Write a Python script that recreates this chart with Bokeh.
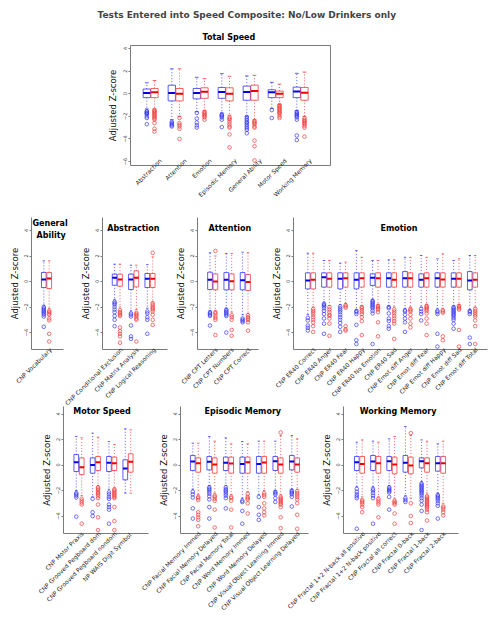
import numpy as np
from bokeh.plotting import figure
from bokeh.layouts import column, row
from bokeh.models import Range1d, FixedTicker, Label, Title, ColumnDataSource
from bokeh.embed import file_html
from bokeh.resources import INLINE

# ---------------- data ----------------
# each box: (lower whisker, Q1, median, Q3, upper whisker); blue = first series, red = second series
total_tests = ["Abstraction", "Attention", "Emotion", "Episodic Memory", "General Ability", "Motor Speed", "Working Memory"]
total_blue = [(-1.35, -0.35, 0.06, 0.41, 0.96), (-2.3, -0.64, 0.06, 0.75, 2.2), (-1.6, -0.46, 0.06, 0.46, 1.45),
              (-1.7, -0.41, 0.14, 0.55, 1.77), (-2.0, -0.58, 0.14, 0.67, 1.57), (-1.3, -0.35, 0.12, 0.35, 1.0),
              (-1.5, -0.35, 0.2, 0.58, 1.8)]
total_blue_out = [[-1.55, -1.6, -1.7, -1.75, -1.8, -2.0, -2.15, -2.7], [-2.5, -2.6, -2.7, -2.8, -2.9],
                  [-1.7, -2.2, -2.55, -2.8, -3.0], [-1.85, -1.9, -2.0, -2.1, -2.3, -2.95],
                  [-2.05, -2.2, -2.35, -2.5, -2.6, -2.75, -2.9, -3.05, -3.2, -3.5], [-1.45, -2.15],
                  [-1.6, -1.7, -1.8, -1.9, -2.0, -2.1, -2.3, -3.7, -4.1]]
total_red = [(-1.35, -0.35, 0.12, 0.46, 1.16), (-2.0, -0.64, 0.0, 0.46, 2.2), (-1.5, -0.41, 0.17, 0.52, 1.33),
             (-1.9, -0.64, 0.0, 0.52, 1.54), (-2.3, -0.58, 0.23, 0.75, 1.62), (-0.95, -0.35, 0.0, 0.23, 0.84),
             (-2.0, -0.58, 0.09, 0.55, 1.91)]
total_red_out = [[-1.45, -1.55, -1.6, -1.7, -1.8, -1.9, -2.0, -2.1, -2.2, -2.3, -2.6, -3.1, -3.35],
                 [-2.15, -2.6, -2.75, -2.9, -3.1, -4.0], [-1.6, -1.7, -1.8, -1.9, -2.0, -2.1, -2.3],
                 [-2.1, -2.2, -2.3, -2.5, -2.7, -2.9, -3.0, -3.6, -4.75],
                 [-2.4, -2.5, -2.6, -2.7, -2.9, -3.0, -4.15, -4.65, -5.9],
                 [-1.0, -1.1, -1.2, -1.3, -1.4, -1.5, -1.6, -1.7, -1.8, -2.0, -2.15],
                 [-2.15, -2.3, -2.4, -2.5, -2.6, -2.7, -2.85, -3.0, -3.8]]

ga_tests = ["CNP Vocabulary"]
ga_blue = [(-1.85, -0.47, 0.16, 0.71, 1.62)]
ga_blue_out = [[-2.0, -2.1, -2.2, -2.3, -2.4, -2.5, -2.6, -2.75, -3.55]]
ga_red = [(-2.1, -0.55, 0.24, 0.71, 1.62)]
ga_red_out = [[-2.3, -2.4, -2.5, -2.6, -2.9, -3.05, -4.1, -4.7]]

abs_tests = ["CNP Conditional Exclusion", "CNP Matrix Analysis", "CNP Logical Reasoning"]
abs_blue = [(-1.4, -0.29, 0.29, 0.58, 1.36), (-2.3, -0.63, 0.16, 0.58, 1.28), (-2.1, -0.47, 0.21, 0.63, 1.33)]
abs_blue_out = [[-1.6, -1.7, -1.8, -2.0, -2.2, -2.4, -2.7, -3.0, -3.5], [-2.5, -2.6, -2.75, -3.45, -4.3, -4.5],
                [-2.35, -2.5, -2.8, -3.0, -4.1]]
abs_red = [(-2.0, -0.37, 0.16, 0.58, 1.36), (-2.2, -0.42, 0.29, 0.84, 1.28), (-1.6, -0.47, 0.21, 0.63, 1.93)]
abs_red_out = [[-2.25, -2.4, -2.5, -2.6, -2.7, -3.6, -3.9, -4.1, -4.3, -4.8],
               [-2.45, -2.55, -2.65, -2.75, -2.9, -3.0, -4.7],
               [2.25, -1.7, -1.85, -2.0, -2.1, -2.2, -2.35, -2.6, -3.0, -3.4]]

att_tests = ["CNP CPT Letters", "CNP CPT Numbers", "CNP CPT Correct"]
att_blue = [(-2.3, -0.63, 0.13, 0.73, 2.25), (-2.1, -0.65, 0.13, 0.7, 2.2), (-2.6, -0.65, 0.1, 0.7, 2.3)]
att_blue_out = [[-2.4, -2.5, -2.6, -2.7, -3.45], [-2.2, -2.3, -2.4, -2.5, -2.6, -2.7, -4.0], [-2.9, -3.0, -3.1, -3.2]]
att_red = [(-2.3, -0.65, 0.0, 0.6, 2.0), (-2.4, -0.65, 0.03, 0.6, 2.2), (-2.5, -0.7, -0.03, 0.55, 2.25)]
att_red_out = [[2.4, -2.4, -2.5, -2.7, -2.85, -3.0, -4.2], [-2.65, -2.8, -3.0, -3.8, -4.25],
               [-2.65, -2.8, -2.9, -3.0, -3.2, -3.85]]

emo_tests = ["CNP ER40 Correct", "CNP ER40 Anger", "CNP ER40 Fear", "CNP ER40 Happy", "CNP ER40 No Emotion",
             "CNP ER40 Sad", "CNP Emot diff Anger", "CNP Emot diff Fear", "CNP Emot diff Happy",
             "CNP Emot diff Sad", "CNP Emot diff Total"]
emo_blue = [(-2.6, -0.58, 0.08, 0.68, 2.22), (-1.6, -0.44, 0.34, 0.68, 1.65), (-1.8, -0.58, 0.21, 0.68, 1.44),
            (-2.2, -0.58, 0.13, 0.68, 2.43), (-1.4, -0.31, 0.29, 0.6, 1.65), (-1.9, -0.44, 0.26, 0.68, 1.7),
            (-2.1, -0.44, 0.26, 0.78, 1.9), (-2.0, -0.44, 0.13, 0.6, 2.04), (-2.1, -0.44, 0.26, 0.68, 1.78),
            (-1.9, -0.44, 0.21, 0.68, 1.65), (-2.2, -0.65, 0.08, 0.78, 2.04)]
emo_blue_out = [[-2.85, -3.05, -3.45, -3.63, -3.84], [-1.75, -1.85, -1.95, -2.1, -2.3, -2.55, -2.9, -3.3, -4.1],
                [-1.95, -2.1, -2.25, -2.4, -2.6, -2.8, -3.0, -3.25, -3.55, -3.95], [-2.3, -2.4, -2.55, -3.4, -4.6, -4.9],
                [-1.5, -1.6, -1.7, -1.8, -1.9, -2.0, -2.1, -2.3, -2.5, -4.9], [-2.0, -2.1, -2.5, -2.9, -3.1, -3.5, -3.7],
                [-2.25, -2.35, -2.6, -2.9, -3.2, -3.95], [-2.15, -2.35, -2.55, -3.05], [-2.3, -2.4, -2.55, -4.1, -5.1],
                [-2.0, -2.1, -2.2, -2.3, -2.4, -2.5, -2.6, -2.7, -2.85, -3.0, -3.3, -3.7], [-2.3, -2.4, -2.55, -4.4, -4.9]]
emo_red = [(-2.0, -0.58, 0.13, 0.68, 2.22), (-1.9, -0.44, 0.21, 0.68, 1.65), (-1.7, -0.44, 0.26, 0.68, 1.52),
           (-1.9, -0.44, 0.26, 0.68, 1.9), (-1.8, -0.44, 0.26, 0.68, 1.65), (-2.0, -0.44, 0.13, 0.68, 1.7),
           (-2.0, -0.44, 0.26, 0.68, 1.9), (-1.8, -0.44, 0.26, 0.68, 1.9), (-2.1, -0.44, 0.16, 0.68, 2.17),
           (-1.8, -0.44, 0.21, 0.68, 1.78), (-2.0, -0.44, 0.13, 0.68, 2.04)]
emo_red_out = [[-2.15, -2.3, -2.45, -2.6, -2.8, -3.0, -3.2, -3.5, -3.95], [-2.0, -2.2, -2.4, -2.6, -2.7, -2.9, -3.3, -4.25],
               [-1.85, -1.95, -2.05, -3.5, -3.75, -3.85], [-2.0, -2.1, -2.25, -2.4, -2.55, -2.8, -3.1, -4.2],
               [-1.9, -2.0, -2.1, -2.2, -2.4, -3.2, -4.3], [-2.2, -2.35, -2.5, -2.7, -2.9, -3.1, -3.3, -4.5],
               [-2.15, -2.25, -2.35, -2.6, -2.9, -3.3, -3.6], [-1.9, -2.0, -2.1, -2.2, -2.3, -2.5, -2.9, -3.3, -4.2],
               [-2.25, -2.35, -2.45, -4.3, -4.6], [-1.9, -2.0, -2.1, -2.2, -3.8, -5.1],
               [-2.15, -2.3, -2.45, -2.6, -2.75, -3.05, -3.5, -4.9]]

mot_tests = ["CNP Motor Praxis", "CNP Grooved Pegboard dom", "CNP Grooved Pegboard nondom", "NP WAIS  Digit Symbol"]
mot_blue = [(-2.0, -0.51, 0.22, 0.82, 2.24), (-2.5, -0.64, 0.01, 0.56, 2.5), (-1.9, -0.51, 0.17, 0.67, 1.84),
            (-2.2, -1.16, -0.27, 0.41, 2.84)]
mot_blue_out = [[-2.2, -2.3, -2.4, -2.55, -4.05], [-2.65, -3.7, -4.0], [-2.15, -2.3, -2.5, -2.65, -3.1, -3.3, -3.5, -4.6], []]
mot_red = [(-2.4, -0.75, -0.17, 0.56, 2.13), (-1.6, -0.43, 0.22, 0.67, 2.18), (-1.8, -0.43, 0.14, 0.62, 1.6),
           (-2.2, -0.56, 0.25, 0.88, 2.76)]
mot_red_out = [[-2.65, -2.8, -2.95, -3.1, -4.6], [-1.75, -1.85, -1.95, -2.1, -2.2, -2.3, -2.45, -2.6, -3.1, -4.1, -5.1],
               [-1.9, -2.0, -2.1, -2.2, -2.3, -2.4, -2.5, -2.6, -3.3, -4.4, -5.1], []]

epi_tests = ["CNP Facial Memory Immed", "CNP Facial Memory Delayed", "CNP Facial Memory Total", "CNP Word Memory Immed",
             "CNP Word Memory Delayed", "CNP Visual Object Learning Immed", "CNP Visual Object Learning Delayed"]
epi_blue = [(-1.9, -0.43, 0.27, 0.75, 1.71), (-1.6, -0.38, 0.25, 0.67, 2.24), (-1.6, -0.43, 0.17, 0.62, 2.13),
            (-2.6, -0.64, 0.09, 0.62, 1.84), (-2.3, -0.64, 0.09, 0.67, 1.87), (-2.0, -0.43, 0.3, 0.67, 1.87),
            (-1.9, -0.38, 0.27, 0.75, 2.31)]
epi_blue_out = [[-2.1, -2.3, -2.55, -3.4, -4.2], [-1.75, -1.85, -1.95, -2.1, -2.25, -2.45, -2.7, -3.3, -4.2],
                [-1.75, -1.9, -2.0, -2.1, -2.25, -2.4, -2.6, -3.4], [-2.8, -2.9, -3.6, -4.6], [-2.5, -3.3, -3.9, -4.3],
                [-2.1, -2.2, -2.3, -2.6, -2.9], [-2.0, -2.1, -2.2, -2.3, -2.5, -3.25]]
epi_red = [(-2.3, -0.56, 0.14, 0.56, 1.71), (-2.2, -0.64, 0.04, 0.56, 1.87), (-2.3, -0.64, 0.12, 0.62, 1.66),
           (-2.1, -0.64, 0.22, 0.62, 1.66), (-2.0, -0.64, 0.2, 0.67, 1.87), (-2.3, -0.64, 0.04, 0.56, 2.3),
           (-1.9, -0.56, 0.04, 0.56, 2.05)]
epi_red_out = [[-2.5, -2.6, -2.75, -3.7, -3.9, -4.1, -4.3, -4.8], [-2.4, -2.5, -2.65, -2.8, -3.5, -4.9],
               [-2.5, -2.6, -2.8, -3.5, -4.9], [-2.25, -2.5, -2.6, -2.7, -3.0, -3.8],
               [-2.2, -2.35, -2.5, -3.0, -3.4, -3.7, -3.95],
               [2.55, -2.5, -2.6, -2.7, -2.8, -2.9, -3.0, -3.1, -3.3, -4.1, -4.95],
               [-2.05, -2.2, -2.35, -2.5, -2.7, -3.0, -3.9, -5.0]]

wm_tests = ["CNP Fractal 1+2 N-back all positive", "CNP Fractal 1+2 N-back positive", "CNP Fractal all correct",
            "CNP Fractal 0-back", "CNP Fractal 1-back", "CNP Fractal 2-back"]
wm_blue = [(-1.7, -0.43, 0.22, 0.67, 1.79), (-1.7, -0.43, 0.27, 0.75, 1.87), (-1.6, -0.43, 0.3, 0.67, 2.05),
           (-2.4, -0.56, 0.17, 0.75, 3.02), (-1.3, -0.22, 0.3, 0.56, 1.97), (-2.2, -0.48, 0.14, 0.67, 1.66)]
wm_blue_out = [[-1.87, -2.1, -2.3, -2.45, -2.6, -5.0], [-1.87, -2.0, -2.2, -2.4, -2.6, -4.6],
               [-1.75, -1.85, -1.95, -2.05, -2.15, -2.5, -3.5], [-2.6, -2.75, -2.9],
               [-1.45, -1.55, -1.65, -1.75, -1.85, -1.95, -2.05, -2.15, -2.25, -2.4, -2.6, -2.8, -3.1, -3.6, -5.1],
               [-2.35, -2.45, -2.55, -2.65, -2.8, -3.0, -3.2, -4.2]]
wm_red = [(-2.5, -0.64, 0.09, 0.67, 1.97), (-2.5, -0.64, 0.14, 0.67, 1.79), (-2.6, -0.69, 0.04, 0.62, 2.24),
          (-2.6, -0.69, -0.04, 0.62, 2.31), (-2.2, -0.56, 0.14, 0.56, 1.87), (-3.0, -0.64, 0.14, 0.67, 1.87)]
wm_red_out = [[-2.75, -2.85, -2.95, -3.1, -3.3, -3.7], [-2.65, -2.8, -2.95, -3.1, -4.1],
              [-2.8, -2.9, -3.0, -3.1, -3.8, -4.6], [2.5, -3.0, -4.0, -4.55],
              [-2.45, -2.55, -2.65, -2.75, -2.85, -2.95, -3.05, -3.15, -3.25, -3.35, -3.5, -3.7, -4.35],
              [-3.25, -3.35, -3.5, -3.7, -3.95]]

main_title = "Tests Entered into Speed Composite: No/Low Drinkers only"
y_label = "Adjusted Z-score"

# ---------------- styling ----------------
FONT = "DejaVu Sans"
BLUE, BLUE_MED = "#3535f5", "#0000e0"
RED, RED_MED = "#f03c3c", "#ee0000"
AXIS_GRAY = "#7a7a7a"
W = 493
L_BORDER = 60   # generous left border; neighbouring figures overlap (transparent) so labels are not cut


def draw_series(p, stats, outs, xs, bw, color, med_color):
    lo, q1, med, q3, hi = (list(v) for v in zip(*stats))
    src = ColumnDataSource(dict(x=xs, lo=lo, q1=q1, med=med, q3=q3, hi=hi,
                                xl=[v - bw / 2 for v in xs], xr=[v + bw / 2 for v in xs],
                                cl=[v - bw / 4 for v in xs], cr=[v + bw / 4 for v in xs]))
    p.segment(x0="x", y0="q3", x1="x", y1="hi", source=src, line_color=color, line_width=0.8, line_dash="1 2")
    p.segment(x0="x", y0="q1", x1="x", y1="lo", source=src, line_color=color, line_width=0.8, line_dash="1 2")
    p.segment(x0="cl", y0="hi", x1="cr", y1="hi", source=src, line_color=color, line_width=0.8)
    p.segment(x0="cl", y0="lo", x1="cr", y1="lo", source=src, line_color=color, line_width=0.8)
    p.vbar(x="x", width=bw, bottom="q1", top="q3", source=src, fill_color="white",
           line_color=color, line_width=0.8)
    p.segment(x0="xl", y0="med", x1="xr", y1="med", source=src, line_color=med_color, line_width=2)
    ox, oy = [], []
    for xv, vals in zip(xs, outs):
        for v in vals:
            ox.append(xv)
            oy.append(v)
    p.scatter(ox, oy, marker="circle", size=3.6, fill_color=None, line_color=color, line_width=0.7)


def style_axes(p, tests, centers, yticks, xlab_px, label_dx, x_standoff, ylab_standoff, lines=True):
    ya = p.yaxis[0]
    ya.ticker = FixedTicker(ticks=yticks)
    ya.axis_label = y_label
    ya.major_label_orientation = "vertical"
    ya.major_label_text_font = FONT
    ya.major_label_text_font_size = "5px"
    ya.major_label_text_color = "#333333"
    ya.major_label_standoff = 1
    ya.major_tick_out = 2
    ya.major_tick_in = 0
    ya.minor_tick_out = 0
    ya.minor_tick_in = 0
    ya.major_tick_line_color = AXIS_GRAY
    ya.axis_line_color = AXIS_GRAY if lines else None
    ya.axis_label_text_font = FONT
    ya.axis_label_text_font_size = "8.5px"
    ya.axis_label_text_font_style = "normal"
    ya.axis_label_text_color = "#111111"
    ya.axis_label_standoff = ylab_standoff

    tick_pos = [int(round(c + label_dx)) for c in centers]
    xa = p.xaxis[0]
    xa.ticker = FixedTicker(ticks=tick_pos)
    xa.major_label_overrides = {t: name for t, name in zip(tick_pos, tests)}
    xa.major_label_orientation = np.pi / 4
    xa.major_tick_out = 0
    xa.major_tick_in = 0
    xa.minor_tick_out = 0
    xa.minor_tick_in = 0
    xa.major_label_standoff = x_standoff
    xa.axis_line_color = AXIS_GRAY if lines else None
    xa.major_label_text_font = FONT
    xa.major_label_text_font_size = f"{xlab_px}px"
    xa.major_label_text_color = "#222222"
    return xa


def panel(tests, blue, blue_out, red, red_out, frame, line_end, c0, sp, title_lines, title_xs, title_ys,
          height, borders, yr, xlab_px, x_standoff, margin_left, right_border):
    fl, fr = frame
    bt, bb = borders
    p = figure(width=L_BORDER + (fr - fl) + right_border, height=height,
               x_range=Range1d(fl, fr), y_range=Range1d(*yr), title=None,
               output_backend="svg", toolbar_location=None,
               min_border_left=L_BORDER, min_border_right=right_border, min_border_top=bt, min_border_bottom=bb,
               margin=(0, 0, 0, margin_left))
    p.grid.visible = False
    p.background_fill_color = None
    p.border_fill_color = None
    p.outline_line_color = None
    centers = [c0 + i * sp for i in range(len(tests))]
    draw_series(p, blue, blue_out, [c - 2.7 for c in centers], 4.7, BLUE, BLUE_MED)
    draw_series(p, red, red_out, [c + 2.7 for c in centers], 4.7, RED, RED_MED)
    xa = style_axes(p, tests, centers, [-4, -2, 0, 2, 4], xlab_px, 4, x_standoff, 2)
    xa.bounds = (fl, line_end)
    for text, x, y in zip(title_lines, title_xs, title_ys):
        p.add_layout(Label(x=x, y=y, text=text, text_align="left", text_baseline="middle",
                           text_font=FONT, text_font_size="8px", text_font_style="bold", text_color="black"))
    return p


def build_row(specs, height, borders, yr, xlab_px, x_standoff):
    figs = []
    prev_end = 0
    for s in specs:
        fl, fr = s[5]
        rb = 2 if fr > W - 10 else 10
        start = fl - L_BORDER
        figs.append(panel(*s, height, borders, yr, xlab_px, x_standoff, start - prev_end, rb))
        prev_end = start + L_BORDER + (fr - fl) + rb
    return figs


# ---------------- top panel (x data measured in screen px) ----------------
top = figure(width=W, height=212, x_range=Range1d(130, 330), y_range=Range1d(-6.35, 4.26),
             output_backend="svg", toolbar_location=None, title=main_title,
             min_border_left=130, min_border_right=163, min_border_top=43, min_border_bottom=47)
top.grid.visible = False
top.outline_line_color = AXIS_GRAY
top_centers = [150.15 + 25 * i for i in range(len(total_tests))]
draw_series(top, total_blue, total_blue_out, [c - 3.85 for c in top_centers], 7.3, BLUE, BLUE_MED)
draw_series(top, total_red, total_red_out, [c + 3.85 for c in top_centers], 7.3, RED, RED_MED)
style_axes(top, total_tests, top_centers, [-6, -4, -2, 0, 2, 4], 6, 10, -6, 3, lines=False)
top.title.align = "left"
top.title.offset = -33
top.title.text_font = FONT
top.title.text_font_size = "9px"
top.title.text_font_style = "bold"
top.title.standoff = 15
top.add_layout(Title(text="Total Speed", align="left", offset=72, standoff=7, text_font=FONT,
                     text_font_size="8px", text_font_style="bold", text_color="black"), "above")

# ---------------- middle row (x data measured in screen px) ----------------
mid_specs = [
    (ga_tests, ga_blue, ga_blue_out, ga_red, ga_red_out, (31, 68), 63, 46, 16.4,
     ["General", "Ability"], [32, 36], [4.55, 3.61]),
    (abs_tests, abs_blue, abs_blue_out, abs_red, abs_red_out, (102, 167), 167, 116.8, 16.35,
     ["Abstraction"], [106.7], [4.16]),
    (att_tests, att_blue, att_blue_out, att_red, att_red_out, (197, 258), 258, 212.2, 16.3,
     ["Attention"], [208], [4.16]),
    (emo_tests, emo_blue, emo_blue_out, emo_red, emo_red_out, (293, 487), 487, 310, 16.2,
     ["Emotion"], [380], [4.16]),
]
mid_figs = build_row(mid_specs, 217, (5, 80), (-5.33, 5.02), 6, -1)

# ---------------- bottom row ----------------
bot_specs = [
    (mot_tests, mot_blue, mot_blue_out, mot_red, mot_red_out, (63, 148), 148, 78.5, 16.33,
     ["Motor Speed"], [72.7], [4.16]),
    (epi_tests, epi_blue, epi_blue_out, epi_red, epi_red_out, (180, 308), 308, 195, 16.5,
     ["Episodic Memory"], [204], [4.16]),
    (wm_tests, wm_blue, wm_blue_out, wm_red, wm_red_out, (343, 458), 458, 359, 16.2,
     ["Working Memory"], [359.3], [4.16]),
]
bot_figs = build_row(bot_specs, 210, (0, 83), (-5.37, 4.59), 6, -1)

mid_row = row(*mid_figs, spacing=0)
bot_row = row(*bot_figs, spacing=0, margin=(-23, 0, 0, 0))
layout = column(top, mid_row, bot_row, spacing=0)

open("out.html", "w").write(file_html(layout, INLINE))
